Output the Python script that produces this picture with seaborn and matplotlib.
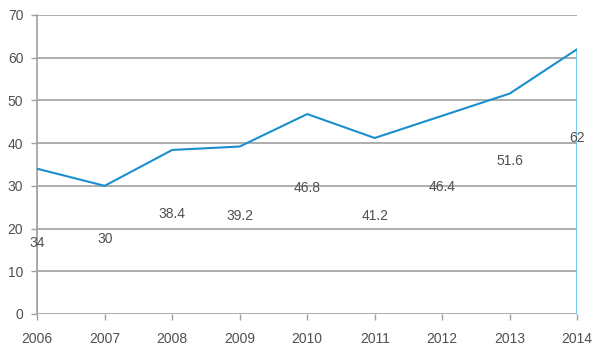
import seaborn as sns
import matplotlib.pyplot as plt
import pandas as pd

# Data
years = [2006, 2007, 2008, 2009, 2010, 2011, 2012, 2013, 2014]
values = [34, 30, 38.4, 39.2, 46.8, 41.2, 46.4, 51.6, 62]
# where the value labels sit (they are drawn below the line in the original)
label_y = [16.7, 17.5, 23.4, 23.0, 29.4, 23.0, 29.7, 35.8, 41.3]
y_ticks = [0, 10, 20, 30, 40, 50, 60, 70]

df = pd.DataFrame({'year': years, 'value': values})

sns.set_style('white')
plt.rcParams['font.family'] = ['Liberation Sans', 'DejaVu Sans']

fig = plt.figure(figsize=(6, 3.56), dpi=100)
ax = fig.add_axes([0.062, 0.118, 0.9, 0.84])

line_color = '#1a8fd0'
text_color = '#505050'
grid_color = '#a0a0a0'

# horizontal gridlines
for t in y_ticks:
    ax.axhline(t, color=grid_color, lw=1.2, zorder=1)

# light blue drop lines at the ends
ax.vlines([years[0], years[-1]], 0, [values[0], values[-1]], color='#5cc3ee', lw=1.2, zorder=2)

sns.lineplot(x='year', y='value', data=df, color=line_color, linewidth=1.5, ax=ax, zorder=3)

for x, v, ly in zip(years, values, label_y):
    ax.text(x, ly, f'{v:g}', ha='center', va='center', fontsize=10, color=text_color, zorder=4)

ax.set_xlim(years[0], years[-1])
ax.set_ylim(0, 70)
ax.set_xticks(years)
ax.set_yticks(y_ticks)
ax.set_xlabel('')
ax.set_ylabel('')

for s in ['top', 'right', 'bottom']:
    ax.spines[s].set_visible(False)
ax.spines['left'].set_color(grid_color)
ax.spines['left'].set_linewidth(1.2)

ax.tick_params(axis='both', labelsize=10, labelcolor=text_color, color=grid_color,
               length=4, width=1, bottom=True, left=True)
ax.tick_params(axis='x', pad=9)
ax.tick_params(axis='y', pad=6)

fig.savefig('out.png', dpi=100)
